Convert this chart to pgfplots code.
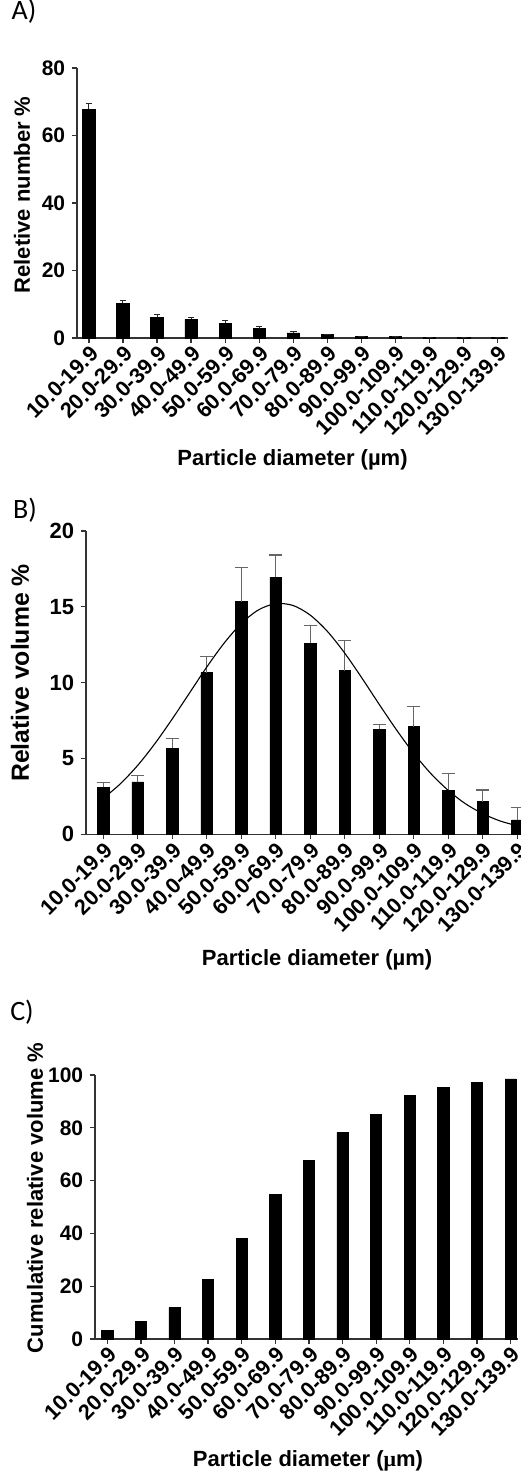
\documentclass[border=0pt]{standalone}
\usepackage{fontspec}
\setmainfont{Liberation Sans}
\newfontfamily\calib{Carlito}
\newfontfamily\serifmu{Liberation Serif}
\usepackage{pgfplots}
\usepackage{pgfplotstable}
\pgfplotsset{compat=1.18}

\pgfplotstableread{
x y e
0 67.8 1.7
1 10.3 0.9
2 6.1 0.95
3 5.5 0.7
4 4.4 0.7
5 2.8 0.6
6 1.5 0.3
7 1.0 0.1
8 0.5 0.05
9 0.35 0.05
10 0.1 0.03
11 0.05 0.02
12 0.05 0.02
}\tabA

\pgfplotstableread{
x y e
0 3.10 0.33
1 3.45 0.45
2 5.67 0.63
3 10.66 1.08
4 15.34 2.26
5 16.95 1.47
6 12.60 1.14
7 10.80 2.00
8 6.92 0.33
9 7.10 1.30
10 2.92 1.08
11 2.15 0.77
12 0.95 0.83
}\tabB

\pgfplotstableread{
x y
0 2.37
0.5 3.34
1 4.55
1.5 5.99
2 7.61
2.5 9.32
3 11.03
3.5 12.60
4 13.90
4.5 14.80
5 15.21
5.5 15.09
6 14.45
6.5 13.37
7 11.94
7.5 10.29
8 8.56
8.5 6.88
9 5.33
9.5 3.99
10 2.89
10.5 2.01
11 1.36
11.5 0.88
12 0.56
}\fitB

\pgfplotstableread{
x y
0 3.2
1 6.6
2 12.0
3 22.7
4 38.1
5 54.9
6 67.6
7 78.3
8 85.2
9 92.3
10 95.3
11 97.3
12 98.5
}\tabC

\pgfplotsset{prism/.style={
  scale only axis,
  axis lines*=left,
  axis line style={black!80, line width=0.65pt},
  tick align=outside,
  major tick length=2.4pt,
  tick style={black!80, line width=0.65pt},
  xtick={0,...,12},
  xticklabels={10.0-19.9,20.0-29.9,30.0-39.9,40.0-49.9,50.0-59.9,60.0-69.9,70.0-79.9,80.0-89.9,90.0-99.9,100.0-109.9,110.0-119.9,120.0-129.9,130.0-139.9},
  x tick label style={rotate=45, anchor=north east, inner sep=0.5pt, font=\bfseries\fontsize{10.8}{13}\selectfont},
  y tick label style={font=\bfseries\fontsize{10.5}{12}\selectfont},
  /pgf/number format/assume math mode=true,
  ymin=0,
  label style={font=\bfseries\fontsize{11}{13}\selectfont},
  title style={font=\calib\fontsize{14}{16}\selectfont, anchor=center},
  clip=false,
}}

\begin{document}
\begin{tikzpicture}
\useasboundingbox (0,0) rectangle (260pt,-738.5pt);

% Panel A
\begin{axis}[prism,
  at={(38.5pt,-169pt)}, anchor=south west,
  width=215.5pt, height=135pt,
  xmin=-0.35, xmax=12.3, ymax=80,
  ytick={0,20,40,60,80},
  title={A)}, title style={at={(axis description cs:-0.123,1.1667)}},
  xlabel={Particle diameter (µm)},
  xlabel style={at={(axis description cs:0.5,-0.452)}, anchor=center},
  ylabel={Reletive number \%},
  ylabel style={at={(axis description cs:-0.1276,0.53)}, anchor=center},
]
\addplot[ybar, bar width=6.2pt, fill=black, draw=black,
  error bars/.cd, y dir=plus, y explicit,
  error bar style={black!85, line width=0.5pt},
  error mark options={rotate=90, mark size=1.6pt, black!85, line width=0.5pt}]
  table[x=x, y=y, y error=e] {\tabA};
\end{axis}

% Panel B
\begin{axis}[prism,
  at={(43pt,-417.15pt)}, anchor=south west,
  width=224.3pt, height=151.65pt,
  xmin=-0.5, xmax=12.5, ymax=20,
  ytick={0,5,10,15,20},
  y tick label style={font=\bfseries\fontsize{11}{13}\selectfont},
  title={B)}, title style={at={(axis description cs:-0.136,1.0297)}},
  xlabel={Particle diameter (µm)},
  xlabel style={at={(axis description cs:0.515,-0.414)}, anchor=center},
  ylabel={Relative volume \%},
  ylabel style={at={(axis description cs:-0.147,0.532)}, anchor=center, font=\bfseries\fontsize{12.4}{14}\selectfont},
]
\addplot[ybar, bar width=5.8pt, fill=black, draw=black,
  error bars/.cd, y dir=plus, y explicit,
  error bar style={black!60, line width=0.55pt},
  error mark options={rotate=90, mark size=3.2pt, black!60, line width=0.55pt}]
  table[x=x, y=y, y error=e] {\tabB};
\addplot[black, line width=0.55pt, smooth, no marks] table[x=x, y=y] {\fitB};
\end{axis}

% Panel C
\begin{axis}[prism,
  at={(47.5pt,-669.5pt)}, anchor=south west,
  width=211.5pt, height=132pt,
  xmin=-0.366, xmax=12.22, ymax=100,
  ytick={0,20,40,60,80,100},
  title={C)}, title style={at={(axis description cs:-0.1726,1.193)}},
  xlabel={Particle diameter ({\serifmu μ}m)},
  xlabel style={at={(axis description cs:0.5035,-0.462)}, anchor=center},
  ylabel={Cumulative relative volume \%},
  ylabel style={at={(axis description cs:-0.142,0.534)}, anchor=center},
]
\addplot[ybar, bar width=5.6pt, fill=black, draw=black]
  table[x=x, y=y] {\tabC};
\end{axis}
\end{tikzpicture}
\end{document}
